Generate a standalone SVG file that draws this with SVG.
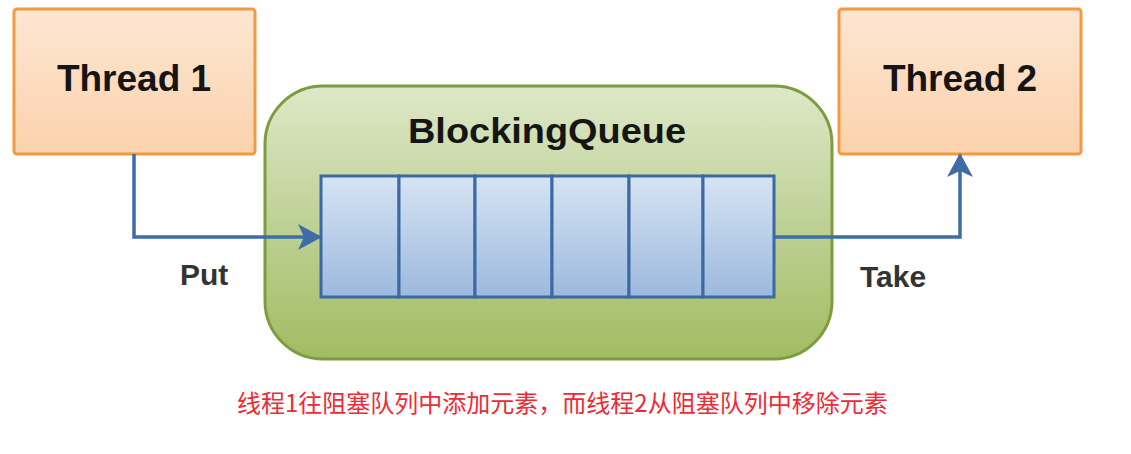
<svg xmlns="http://www.w3.org/2000/svg" width="1131" height="454" viewBox="0 0 1131 454">
  <defs>
    <linearGradient id="gThread" x1="0" y1="0" x2="0" y2="1">
      <stop offset="0" stop-color="#fde6d2"/>
      <stop offset="1" stop-color="#fbd2ac"/>
    </linearGradient>
    <linearGradient id="gQueue" x1="0" y1="0" x2="0" y2="1">
      <stop offset="0" stop-color="#dde8c8"/>
      <stop offset="0.5" stop-color="#bed195"/>
      <stop offset="1" stop-color="#a2bc62"/>
    </linearGradient>
    <linearGradient id="gCell" x1="0" y1="0" x2="0" y2="1">
      <stop offset="0" stop-color="#d6e4f2"/>
      <stop offset="1" stop-color="#9db9df"/>
    </linearGradient>
    <marker id="arrow" viewBox="0 0 24 26" refX="22" refY="13" markerWidth="24" markerHeight="26" markerUnits="userSpaceOnUse" orient="auto">
      <path d="M0,0 L24,13 L0,26 L6,13 Z" fill="#3d6ca6"/>
    </marker>
    <style>
      .thread { fill: url(#gThread); stroke: #f19a42; stroke-width: 3; }
      .title { font-family: "Liberation Sans", Arial, sans-serif; font-weight: bold; fill: #151515; text-anchor: middle; }
      .label { font-family: "Liberation Sans", Arial, sans-serif; font-weight: bold; fill: #333333; font-size: 30px; }
      .cell { fill: url(#gCell); stroke: #3b69a4; stroke-width: 3; }
      .conn { fill: none; stroke: #3d6ca6; stroke-width: 3.5; }
      .note { font-family: "Noto Sans CJK SC", "Noto Sans", sans-serif; font-size: 24px; fill: #ee2a36; }
    </style>
  </defs>
  <rect width="1131" height="454" fill="#ffffff"/>

  <g id="thread1">
    <rect class="thread" x="14" y="9" width="241" height="145" rx="3"/>
    <text class="title" x="134" y="91" font-size="37">Thread 1</text>
  </g>

  <g id="thread2">
    <rect class="thread" x="839" y="9" width="242" height="145" rx="3"/>
    <text class="title" x="960" y="91" font-size="37">Thread 2</text>
  </g>

  <g id="blockingqueue">
    <rect x="265" y="86" width="567" height="273" rx="58" fill="url(#gQueue)" stroke="#7d9c3e" stroke-width="3"/>
    <text class="title" x="547" y="143" font-size="35" textLength="278" lengthAdjust="spacingAndGlyphs">BlockingQueue</text>
    <rect class="cell" x="321" y="176" width="78" height="121"/>
    <rect class="cell" x="399" y="176" width="76" height="121"/>
    <rect class="cell" x="475" y="176" width="77" height="121"/>
    <rect class="cell" x="552" y="176" width="77" height="121"/>
    <rect class="cell" x="629" y="176" width="74" height="121"/>
    <rect class="cell" x="703" y="176" width="71" height="121"/>
  </g>

  <g id="connectors">
    <path class="conn" d="M134,154 L134,237 L320,237" marker-end="url(#arrow)"/>
    <path class="conn" d="M774,237 L960,237 L960,155" marker-end="url(#arrow)"/>
  </g>

  <g id="labels">
    <text class="label" x="180" y="285">Put</text>
    <text class="label" x="860" y="287">Take</text>
  </g>

  <g id="caption">
    <text class="note" x="237" y="412">线程1往阻塞队列中添加元素，而线程2从阻塞队列中移除元素</text>
  </g>
</svg>
